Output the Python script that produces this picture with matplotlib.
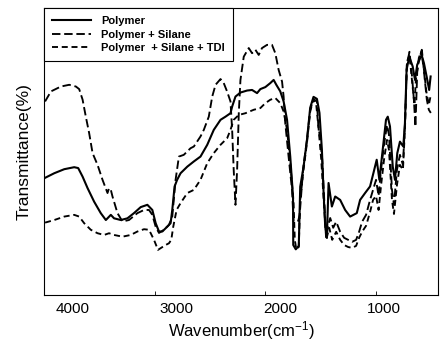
import matplotlib
matplotlib.use("Agg")
import matplotlib.pyplot as plt
from matplotlib.transforms import ScaledTranslation

plt.rcParams['font.family'] = ['Liberation Sans', 'DejaVu Sans']
plt.rcParams['mathtext.default'] = 'regular'

# FTIR spectra, wavenumber (cm-1) vs transmittance (arbitrary %)
poly_wn = [3990, 3907, 3817, 3727, 3691, 3651, 3606, 3547, 3487, 3441, 3396, 3367, 3306,
           3246, 3187, 3126, 3066, 3021, 2991, 2961, 2931, 2886, 2856, 2841, 2820, 2797,
           2766, 2705, 2646, 2586, 2525, 2466, 2405, 2360, 2315, 2300, 2270, 2225, 2165,
           2120, 2075, 2045, 2000, 1955, 1925, 1901, 1865, 1835, 1804, 1775, 1750, 1748,
           1725, 1698, 1685, 1655, 1624, 1595, 1565, 1534, 1511, 1489, 1475, 1459, 1444,
           1429, 1399, 1369, 1324, 1279, 1234, 1174, 1144, 1099, 1054, 1024, 994, 970,
           940, 910, 894, 874, 849, 829, 808, 784, 754, 739, 724, 700, 669, 648, 628, 588,
           567, 543, 520, 507]
poly_t = [40.8, 42.4, 43.8, 44.5, 44.2, 41.2, 37.2, 32.5, 28.5, 26.1, 27.9, 26.7, 26.1,
          26.7, 28.5, 30.6, 31.4, 29.6, 25.0, 22.1, 22.1, 23.8, 25.0, 29.6, 37.8, 40.1,
          42.4, 44.7, 46.5, 48.2, 52.3, 57.5, 61.0, 62.1, 63.3, 65.6, 69.1, 70.5, 71.2,
          71.4, 70.3, 71.7, 72.4, 73.8, 74.9, 73.2, 70.9, 67.4, 61.0, 48.2, 34.3, 17.4,
          15.9, 17.1, 37.7, 44.6, 54.0, 65.2, 69.0, 68.3, 63.4, 50.5, 36.6, 23.7, 19.9,
          39.0, 30.8, 34.3, 33.1, 29.6, 27.3, 28.5, 33.1, 35.5, 37.8, 42.4, 47.1, 40.1,
          50.5, 61.0, 62.1, 58.7, 44.7, 40.1, 49.4, 53.4, 51.7, 59.8, 78.4, 83.0, 79.6,
          74.9, 80.2, 83.6, 80.7, 76.1, 71.4, 76.1]

silane_wn = [3990, 3937, 3847, 3772, 3712, 3682, 3651, 3622, 3592, 3561, 3516, 3471, 3426,
             3412, 3396, 3381, 3336, 3291, 3232, 3156, 3096, 3051, 3021, 2991, 2961, 2916,
             2871, 2841, 2811, 2781, 2737, 2676, 2646, 2586, 2556, 2511, 2480, 2450, 2405,
             2376, 2346, 2315, 2300, 2286, 2270, 2255, 2240, 2225, 2195, 2150, 2120, 2090,
             2060, 2030, 1985, 1940, 1910, 1880, 1849, 1835, 1820, 1790, 1759, 1745, 1730,
             1703, 1690, 1658, 1624, 1595, 1565, 1534, 1522, 1504, 1486, 1468, 1450, 1432,
             1414, 1387, 1360, 1324, 1288, 1252, 1216, 1180, 1153, 1126, 1090, 1054, 1027,
             1000, 977, 955, 928, 901, 883, 856, 838, 811, 784, 757, 739, 721, 698, 676,
             658, 644, 628, 613, 586, 564, 541, 523, 505]
silane_t = [67.4, 70.9, 72.6, 73.2, 72.6, 71.7, 68.0, 62.1, 56.4, 49.4, 45.3, 40.1, 35.5,
            37.2, 36.6, 34.3, 28.5, 25.6, 26.1, 28.5, 29.6, 29.6, 27.9, 23.8, 21.6, 22.7,
            24.4, 27.3, 40.1, 48.2, 48.8, 51.1, 51.7, 55.2, 57.5, 62.1, 69.1, 73.2, 75.2,
            73.8, 70.9, 67.4, 57.5, 43.6, 31.4, 43.6, 63.3, 74.9, 83.0, 86.0, 84.2, 85.4,
            83.6, 86.0, 87.1, 87.1, 84.2, 78.4, 74.3, 69.1, 59.8, 48.2, 36.6, 25.6, 25.5,
            25.8, 27.9, 44.3, 54.0, 64.5, 68.3, 67.3, 59.2, 54.0, 47.1, 33.1, 19.9, 24.4,
            26.8, 23.4, 25.5, 22.0, 19.9, 19.2, 18.5, 19.2, 22.0, 25.5, 27.9, 33.1, 36.6,
            40.1, 34.5, 43.6, 52.3, 59.2, 55.8, 36.6, 31.4, 43.6, 48.8, 45.3, 59.2, 80.2,
            84.7, 76.7, 68.0, 58.6, 77.7, 82.6, 85.4, 76.7, 68.0, 64.5, 63.4]

tdi_wn = [3990, 3907, 3817, 3727, 3682, 3637, 3577, 3516, 3457, 3412, 3367, 3291, 3216,
          3156, 3096, 3051, 3006, 2970, 2946, 2901, 2871, 2850, 2832, 2802, 2766, 2705,
          2646, 2586, 2525, 2466, 2405, 2345, 2315, 2286, 2240, 2180, 2105, 2045, 2000,
          1955, 1910, 1865, 1835, 1804, 1775, 1745, 1734, 1721, 1698, 1685, 1655, 1624,
          1595, 1568, 1541, 1518, 1495, 1473, 1450, 1423, 1396, 1360, 1324, 1288, 1252,
          1216, 1180, 1153, 1126, 1090, 1054, 1027, 1000, 977, 955, 928, 901, 883, 856,
          838, 811, 784, 757, 739, 721, 698, 676, 653, 640, 613, 591, 567, 545, 523, 505]
tdi_t = [25.2, 26.1, 27.3, 27.9, 27.3, 25.0, 22.7, 21.5, 20.9, 21.5, 20.9, 20.3, 20.9,
         22.1, 22.9, 22.7, 19.2, 15.7, 16.3, 17.4, 18.0, 19.2, 23.8, 29.6, 32.0, 35.5,
         36.6, 40.1, 45.9, 49.4, 52.3, 54.6, 57.5, 61.0, 62.7, 63.3, 64.5, 65.1, 66.8,
         68.0, 68.6, 66.8, 63.9, 57.5, 45.9, 32.0, 19.2, 16.0, 16.7, 33.1, 43.6, 53.0,
         63.8, 68.0, 66.6, 57.5, 47.1, 33.1, 19.2, 23.4, 19.2, 22.0, 19.2, 17.4, 16.7,
         16.4, 17.1, 19.9, 22.0, 24.1, 28.9, 33.1, 34.5, 29.6, 38.0, 47.1, 54.0, 50.5,
         33.1, 28.2, 38.3, 45.3, 43.6, 57.5, 81.2, 83.6, 75.0, 66.2, 75.0, 81.9, 84.7,
         78.4, 70.7, 66.2, 69.7]

labels = ["Polymer", "Polymer + Silane", "Polymer  + Silane + TDI"]
xticks = [4000, 3000, 2000, 1000]

fig = plt.figure(figsize=(4.42, 3.41), dpi=100)
ax = fig.add_axes([0.0995, 0.135, 0.8915, 0.842])

ax.plot(poly_wn, poly_t, color='black', lw=1.5, label=labels[0])
ax.plot(silane_wn, silane_t, color='black', lw=1.35, ls=(0, (4.5, 2)), label=labels[1])
ax.plot(tdi_wn, tdi_t, color='black', lw=1.35, ls=(0, (3.2, 2)), label=labels[2])

ax.set_xlim(4000, 440)
ax.set_ylim(0, 100)
ax.set_yticks([])
ax.set_xticks(xticks)
ax.set_xticklabels([str(t) for t in xticks])
ax.tick_params(axis='x', direction='in', length=3, width=0.6, labelsize=11, pad=5)
for sp in ax.spines.values():
    sp.set_linewidth(0.8)

# tick labels sit a little to the right of their marks
shifts = [29, 22, 14.5, 8]
for tick, dx in zip(ax.xaxis.get_major_ticks(), shifts):
    tick.label1.set_transform(tick.label1.get_transform()
                              + ScaledTranslation(dx / 100, 0, fig.dpi_scale_trans))

ax.set_xlabel("Wavenumber(cm$^{-1}$)", fontsize=12, labelpad=2)
ax.set_ylabel("Transmittance(%)", fontsize=12.5, labelpad=9)

leg = ax.legend(loc='upper left', bbox_to_anchor=(0, 1), borderaxespad=0,
                fancybox=False, edgecolor='black', framealpha=1,
                prop={'weight': 'bold', 'size': 8},
                handlelength=3.5, handletextpad=0.9, labelspacing=0.3,
                borderpad=0.75)
leg.get_frame().set_linewidth(0.8)

fig.savefig("out.png", dpi=100)
